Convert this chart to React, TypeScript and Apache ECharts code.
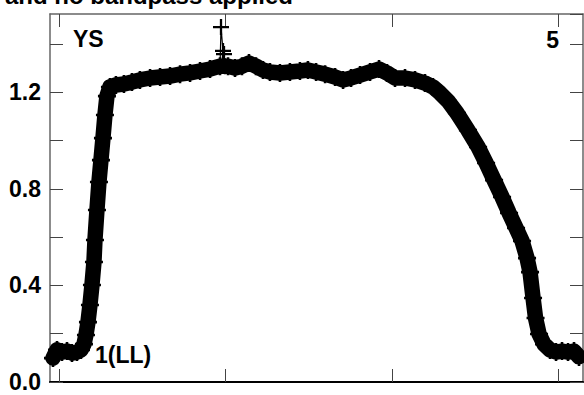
import React, { useEffect, useRef } from "react";
import * as echarts from "echarts";

// Main trace (x in channel units, y in signal units)
const traceX = [
  -3.6, -1.2, 1.8, 4.8, 7.8, 10.8, 13.2, 15.0, 16.2, 17.4, 18.6, 19.8, 21.0, 21.6,
  22.8, 24.0, 25.2, 26.4, 27.6, 28.8, 30.6, 34.2, 39.0, 43.8, 48.6, 54.7, 60.7,
  66.7, 72.7, 78.7, 84.7, 90.7, 96.7, 101.5, 105.7, 109.9, 114.1, 118.3, 122.5,
  126.7, 132.7, 138.7, 144.7, 149.5, 154.4, 159.8, 165.8, 170.6, 175.4, 180.8,
  186.8, 192.2, 197.0, 201.8, 207.8, 213.8, 219.8, 224.6, 228.8, 233.6, 239.0,
  245.6, 251.7, 256.5, 261.3, 266.1, 270.3, 274.5, 278.1, 281.1, 282.9, 284.7,
  286.2, 288.3, 291.3, 294.9, 298.5, 302.1, 305.7, 309.3, 312.3,
];
const traceY = [
  0.099, 0.133, 0.124, 0.128, 0.120, 0.124, 0.133, 0.157, 0.195, 0.248, 0.319,
  0.402, 0.497, 0.588, 0.712, 0.828, 0.919, 1.010, 1.106, 1.184, 1.222, 1.230,
  1.234, 1.242, 1.251, 1.259, 1.263, 1.267, 1.275, 1.280, 1.288, 1.296, 1.308,
  1.308, 1.300, 1.308, 1.321, 1.308, 1.292, 1.284, 1.280, 1.284, 1.288, 1.292,
  1.284, 1.275, 1.263, 1.251, 1.259, 1.271, 1.284, 1.296, 1.280, 1.259, 1.259,
  1.251, 1.238, 1.222, 1.197, 1.164, 1.114, 1.043, 0.973, 0.907, 0.836, 0.766,
  0.700, 0.638, 0.584, 0.513, 0.455, 0.348, 0.265, 0.199, 0.157, 0.133, 0.124,
  0.128, 0.124, 0.128, 0.104,
];

// Outlier spike near channel 97
const spikeX = [96.7, 97.3, 98.5, 99.1, 99.7];
const spikeY = [1.308, 1.470, 1.371, 1.358, 1.308];

const yTickLabels = ["0.0", "0.4", "0.8", "1.2"];
const xTickValues = [0, 100, 200, 300];

const titleText = "and no bandpass applied";
const cornerLeft = "YS";
const cornerRight = "5";
const bottomLabel = "1(LL)";

const FONT = "Liberation Sans, Arial, Helvetica, sans-serif";
const PLUS = "path://M6,0H8V6H14V8H8V14H6V8H0V6H6Z";

export default function App() {
  const ref = useRef<HTMLDivElement>(null);
  useEffect(() => {
    document.body.style.margin = "0";
    if (!ref.current) return;
    const chart = echarts.init(ref.current, null, { renderer: "svg" });
    const trace = traceX.map((x, i) => [x, traceY[i]]);
    const spike = spikeX.map((x, i) => [x, spikeY[i]]);
    const xMin = -5.4;
    const xMax = 314.7;
    const yMin = 0;
    const yMax = 1.524;
    const grayLine = { show: true, lineStyle: { color: "#666", width: 1.5 } };
    const xTick = { show: true, inside: true, length: 13, customValues: xTickValues, lineStyle: { color: "#444", width: 1 } };
    const yTick = { show: true, inside: true, length: 13, lineStyle: { color: "#444", width: 1 } };
    const labelFmt = (v: number) => {
      const s = v.toFixed(1);
      return yTickLabels.includes(s) && Math.abs(v - parseFloat(s)) < 1e-6 ? s : "";
    };
    chart.setOption({
      animation: false,
      grid: { left: 50, right: 1, top: 14, bottom: 13, containLabel: false },
      xAxis: [
        {
          type: "value", position: "bottom", min: xMin, max: xMax,
          axisLine: { show: true, onZero: false, lineStyle: { color: "#000", width: 2 } },
          axisTick: xTick, axisLabel: { show: false }, splitLine: { show: false },
        },
        {
          type: "value", position: "top", min: xMin, max: xMax,
          axisLine: { ...grayLine, onZero: false },
          axisTick: xTick, axisLabel: { show: false }, splitLine: { show: false },
        },
      ],
      yAxis: [
        {
          type: "value", position: "left", min: yMin, max: yMax, interval: 0.2,
          axisLine: { ...grayLine, onZero: false },
          axisTick: yTick,
          axisLabel: {
            show: true, formatter: labelFmt, fontSize: 23, fontWeight: "bold",
            fontFamily: FONT, color: "#000", margin: 9, showMaxLabel: false,
          },
          splitLine: { show: false },
        },
        {
          type: "value", position: "right", min: yMin, max: yMax, interval: 0.2,
          axisLine: { ...grayLine, onZero: false },
          axisTick: yTick, axisLabel: { show: false }, splitLine: { show: false },
        },
      ],
      series: [
        {
          type: "line", data: spike, clip: false, symbol: PLUS, symbolSize: 16,
          showAllSymbol: true, itemStyle: { color: "#000" },
          lineStyle: { color: "#000", width: 1.2 }, z: 3,
        },
        {
          type: "line", data: trace, clip: false, symbol: PLUS, symbolSize: 18,
          showAllSymbol: true, itemStyle: { color: "#000" },
          lineStyle: { color: "#000", width: 15.5, cap: "round", join: "round" }, z: 2,
        },
      ],
      graphic: [
        {
          type: "text", x: 293, y: -4.5,
          style: { text: titleText, font: `bold 24px ${FONT}`, fill: "#000", align: "right", verticalAlign: "middle", textAlign: "right", textVerticalAlign: "middle" },
        },
        {
          type: "text", x: 73, y: 38.5,
          style: { text: cornerLeft, font: `bold 23px ${FONT}`, fill: "#000", align: "left", verticalAlign: "middle", textAlign: "left", textVerticalAlign: "middle" },
        },
        {
          type: "text", x: 559, y: 39.5,
          style: { text: cornerRight, font: `bold 23px ${FONT}`, fill: "#000", align: "right", verticalAlign: "middle", textAlign: "right", textVerticalAlign: "middle" },
        },
        {
          type: "text", x: 95, y: 355,
          style: { text: bottomLabel, font: `bold 23px ${FONT}`, fill: "#000", align: "left", verticalAlign: "middle", textAlign: "left", textVerticalAlign: "middle" },
        },
      ],
    });
    return () => chart.dispose();
  }, []);
  return <div ref={ref} style={{ width: 584, height: 395 }} />;
}
